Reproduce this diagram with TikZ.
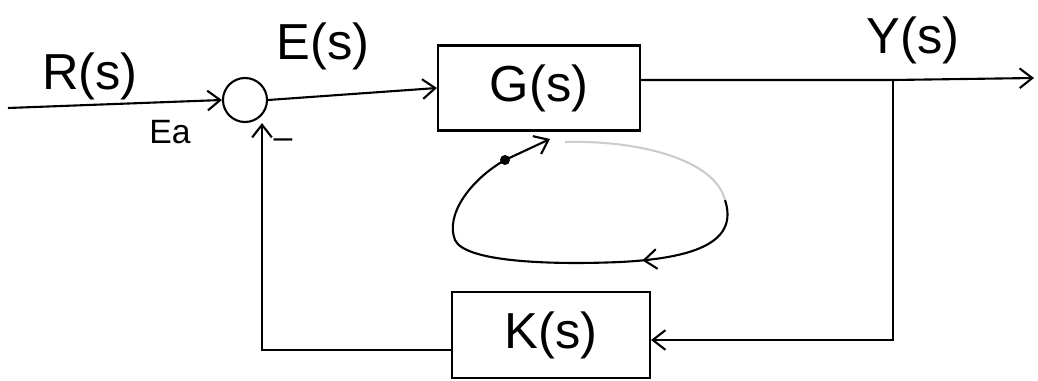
\documentclass[tikz,border=0pt]{standalone}
\usepackage{fontspec}
\setmainfont{Liberation Sans}
\usetikzlibrary{arrows.meta,decorations.markings}
\begin{document}
\begin{tikzpicture}[x=0.025cm,y=-0.025cm,
  line width=1.5pt,
  arr/.style={-{Straight Barb[length=9pt,width=14pt,line width=1.5pt]}},
  blk/.style={draw,rectangle,inner sep=0pt},
  lbl/.style={font=\fontsize{36}{38}\selectfont},
  small/.style={font=\fontsize{24}{26}\selectfont}]
\useasboundingbox (0,0) rectangle (1038,381);
% nodes
\node[draw,circle,minimum size=1.1cm,inner sep=0pt] (sum) at (245,100) {};
\node[blk,minimum width=5.05cm,minimum height=2.125cm,lbl] (G) at (539,88) {G(s)};
\node[blk,minimum width=4.95cm,minimum height=2.15cm,lbl] (K) at (551,335) {K(s)};
\coordinate (in) at (8,108);
\coordinate (out) at (1034,78);
\coordinate (br) at (893,80);
\coordinate (brd) at (893,340);
\coordinate (fbl) at (262,350);
% labels
\node[lbl] (R) at (90,76) {R(s)};
\node[lbl] (E) at (323,46) {E(s)};
\node[lbl] (Y) at (913,40) {Y(s)};
\node[small] (Ea) at (170,132) {Ea};
\node[small] (minus) at (283,144) {--};
% connectors
\draw[arr] (in) -- (sum.west);
\draw[arr] (sum.east) -- (G.west);
\draw[arr] (G.east |- br) -- (br) -- (out);
\draw[arr] (br) -- (brd) -- (K.east |- brd);
\draw[arr] (K.west |- fbl) -- (fbl) -- (sum.south -| fbl);
% loop under G
\coordinate (dot) at (505,160);
\coordinate (tip) at (550,139);
\fill (dot) circle (5);
\draw[arr] (dot) -- (tip);
\draw[postaction={decorate},decoration={markings,mark=at position 0.29 with {\arrow{Straight Barb[length=9pt,width=14pt,line width=1.5pt]}}}]
  (725,200) .. controls (738,240) and (700,258) .. (620,262)
  .. controls (550,265) and (465,262) .. (455,240)
  .. controls (445,215) and (470,180) .. (dot);
\draw[gray!40] (725,200) .. controls (715,160) and (640,140) .. (565,142);
\end{tikzpicture}
\end{document}
